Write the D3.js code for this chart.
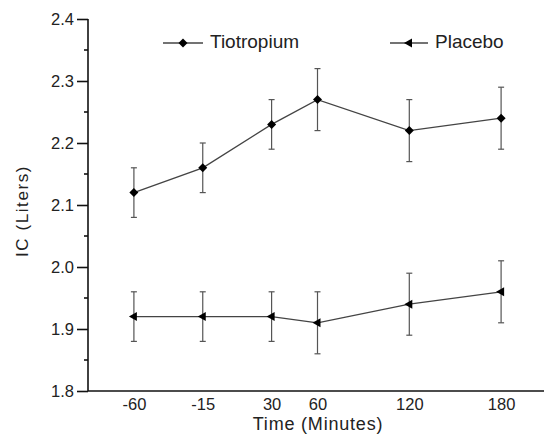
<!DOCTYPE html>
<meta charset="utf-8">
<script src="https://cdn.jsdelivr.net/npm/d3@7"></script>
<style>
body { margin: 0; background: #fff; }
text { font-family: "Liberation Sans", Arial, sans-serif; fill: #222; }
.axis path, .axis line { stroke: #111; stroke-width: 1.6px; }
</style>
<body>
<script>

// time points (minutes)
var times = [-60, -15, 30, 60, 120, 180];
// mean IC (Liters) and error
var tiotropium = [2.12, 2.16, 2.23, 2.27, 2.22, 2.24];
var tiotropiumErr = [0.04, 0.04, 0.04, 0.05, 0.05, 0.05];
var placebo = [1.92, 1.92, 1.92, 1.91, 1.94, 1.96];
var placeboErr = [0.04, 0.04, 0.04, 0.05, 0.05, 0.05];
var yTicks = [1.8, 1.9, 2.0, 2.1, 2.2, 2.3, 2.4];

var width = 544, height = 439;

var svg = d3.select("body").append("svg")
    .attr("width", width)
    .attr("height", height);

var x = d3.scaleLinear().domain([-90, 210]).range([88, 547]);
var y = d3.scaleLinear().domain([1.8, 2.4]).range([391, 19]);

// y axis
svg.append("g")
    .attr("class", "axis")
    .attr("transform", "translate(88,0)")
    .call(d3.axisLeft(y).tickValues(yTicks).tickFormat(d3.format(".1f")).tickSize(11).tickSizeOuter(0))
    .call(g => g.selectAll("text").style("font-size", "16.5px").attr("x", -14))
    .call(g => g.select(".domain").attr("d", "M0," + y(2.4) + "V" + y(1.8)));

// minor ticks
svg.append("g")
    .attr("class", "axis")
    .attr("transform", "translate(88,0)")
    .selectAll("line")
    .data(d3.range(1.85, 2.4, 0.1))
    .enter().append("line")
    .attr("x1", -4).attr("x2", 0)
    .attr("y1", d => y(d)).attr("y2", d => y(d));

// x axis
svg.append("g")
    .attr("class", "axis")
    .attr("transform", "translate(0,391)")
    .call(d3.axisBottom(x).tickValues(times).tickFormat(d => String(d)).tickSize(0).tickPadding(7))
    .call(g => g.selectAll("text").style("font-size", "16.5px"))
    .call(g => g.select(".domain").attr("d", "M88,0H544"));

// axis titles
svg.append("text")
    .attr("x", 318).attr("y", 430)
    .attr("text-anchor", "middle")
    .style("font-size", "18px")
    .style("letter-spacing", "0.8px")
    .text("Time (Minutes)");

svg.append("text")
    .attr("transform", "translate(28,211) rotate(-90)")
    .attr("text-anchor", "middle")
    .style("font-size", "17px")
    .style("letter-spacing", "1.6px")
    .text("IC (Liters)");

var line = d3.line()
    .x(d => x(d.t))
    .y(d => y(d.v));

function drawSeries(vals, errs, marker) {
  var data = times.map((t, i) => ({t: t, v: vals[i], e: errs[i]}));
  var g = svg.append("g");

  // error bars
  var eb = g.selectAll(".err").data(data).enter().append("g")
      .attr("stroke", "#555").attr("stroke-width", 1.2);
  eb.append("line")
      .attr("x1", d => x(d.t)).attr("x2", d => x(d.t))
      .attr("y1", d => y(d.v + d.e)).attr("y2", d => y(d.v - d.e));
  eb.append("line")
      .attr("x1", d => x(d.t) - 3).attr("x2", d => x(d.t) + 3)
      .attr("y1", d => y(d.v + d.e)).attr("y2", d => y(d.v + d.e));
  eb.append("line")
      .attr("x1", d => x(d.t) - 3).attr("x2", d => x(d.t) + 3)
      .attr("y1", d => y(d.v - d.e)).attr("y2", d => y(d.v - d.e));

  g.append("path")
      .datum(data)
      .attr("fill", "none")
      .attr("stroke", "#444")
      .attr("stroke-width", 1.3)
      .attr("d", line);

  g.selectAll(".mk").data(data).enter().append("path")
      .attr("transform", d => "translate(" + x(d.t) + "," + y(d.v) + ")")
      .attr("d", marker)
      .attr("fill", "#000");
}

var diamond = "M0,-4.5L4.5,0L0,4.5L-4.5,0Z";
var triangle = "M-5,0L3,-4.5L3,4.5Z";

drawSeries(tiotropium, tiotropiumErr, diamond);
drawSeries(placebo, placeboErr, triangle);

// legend
var legend = [
  {name: "Tiotropium", x0: 163, x1: 203, m: diamond, tx: 210},
  {name: "Placebo", x0: 390, x1: 428, m: triangle, tx: 435}
];
var lg = svg.selectAll(".legend").data(legend).enter().append("g");
lg.append("line")
    .attr("x1", d => d.x0).attr("x2", d => d.x1)
    .attr("y1", 43).attr("y2", 43)
    .attr("stroke", "#444").attr("stroke-width", 1.3);
lg.append("path")
    .attr("transform", d => "translate(" + ((d.x0 + d.x1) / 2) + ",43)")
    .attr("d", d => d.m)
    .attr("fill", "#000");
lg.append("text")
    .attr("x", d => d.tx).attr("y", 48)
    .style("font-size", "19px")
    .text(d => d.name);

</script>
</body>
